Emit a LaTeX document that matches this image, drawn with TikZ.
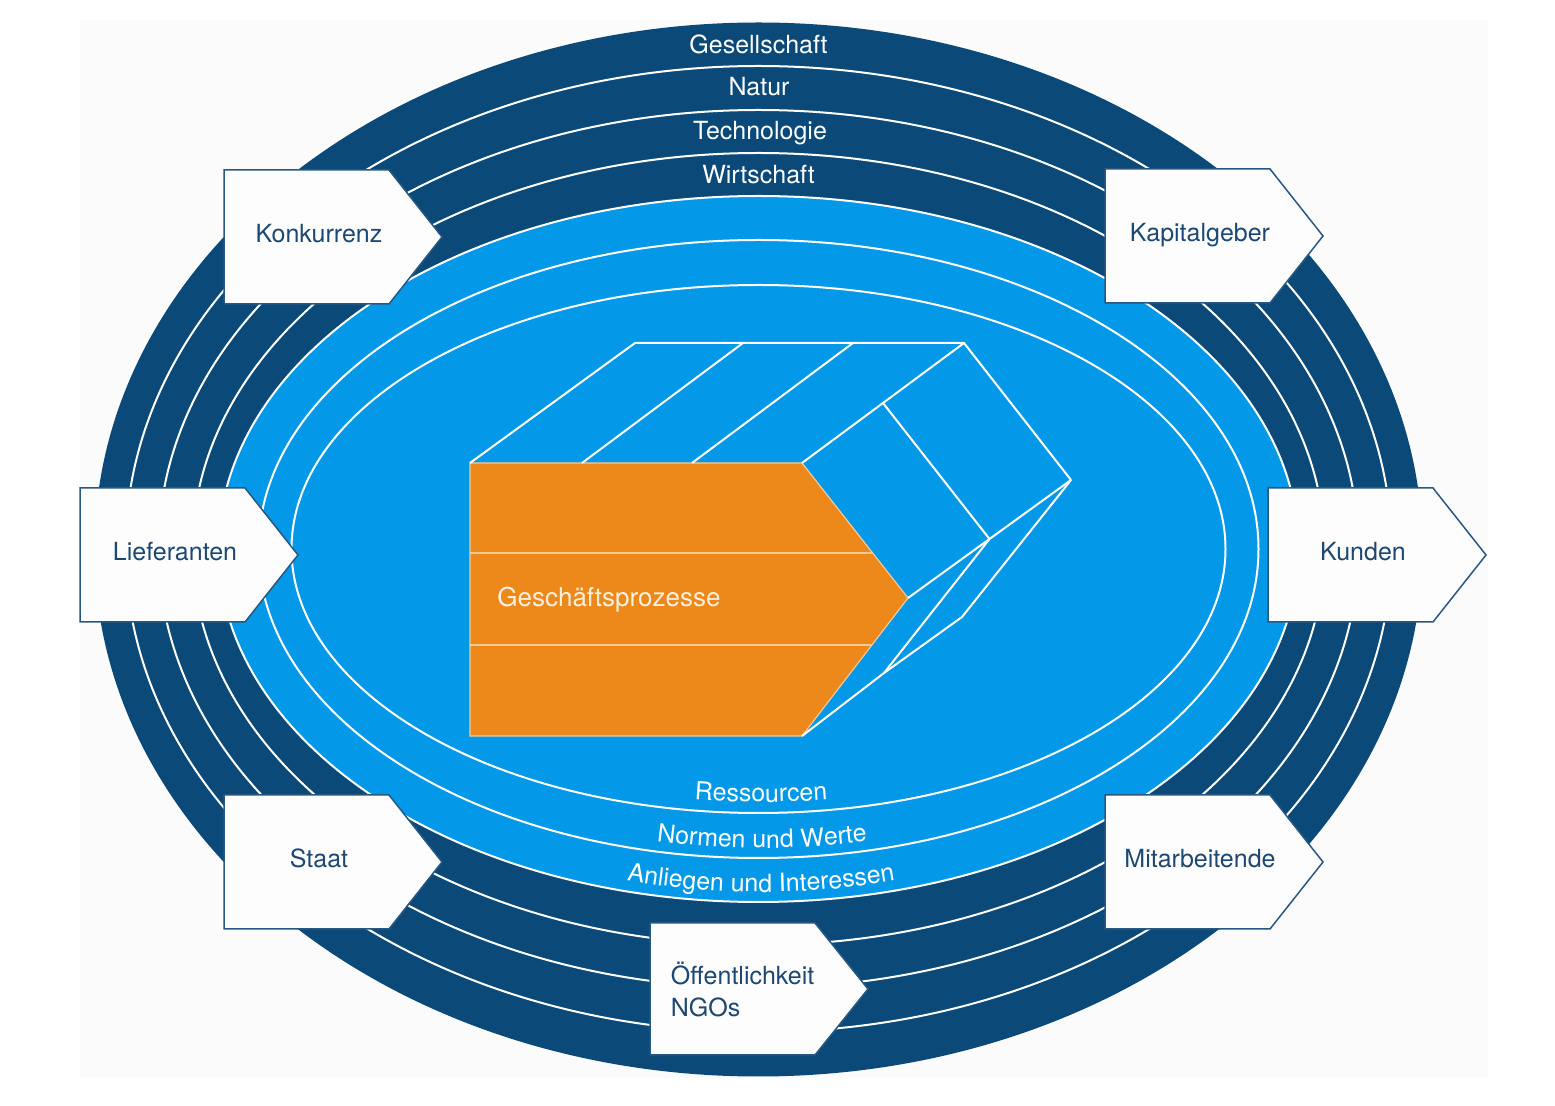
\documentclass[tikz,border=0pt]{standalone}
\usepackage{fontspec}
\setmainfont{TeX Gyre Heros}
\usetikzlibrary{decorations.text}
\definecolor{navy}{RGB}{11,73,121}
\definecolor{sky}{RGB}{4,152,232}
\definecolor{orng}{RGB}{237,136,26}
\definecolor{boxtext}{RGB}{28,72,115}
\definecolor{boxline}{RGB}{40,88,130}
\definecolor{paleorange}{RGB}{248,200,150}
\definecolor{cream}{RGB}{255,240,222}
\definecolor{bgpale}{RGB}{251,251,251}
\newcommand{\ringfont}{\fontsize{12.5}{15}\selectfont}
\newcommand{\stakeholder}[4]{%
  \path[sharrow] (#2,#3) -- ++(165,0) -- ++(53,67) -- ++(-53,67) -- ++(-165,0) -- cycle;
  \node[slabel] (#1) at ({#2+95},{#3+73}) {#4};
}
\begin{document}
\begin{tikzpicture}[x=0.5pt,y=-0.5pt,
  ring/.style={draw=white, line width=1pt},
  ringlabel/.style={anchor=base, text=white, font=\ringfont, inner sep=0pt},
  sharrow/.style={fill=white!60!bgpale, draw=boxline, line width=0.75pt, line join=miter},
  slabel/.style={anchor=base, text=boxtext, font=\ringfont, inner sep=0pt},
  prism/.style={draw=white, line width=1pt, line join=round},
  orangeline/.style={draw=paleorange, line width=1.1pt}]
\useasboundingbox (0,0) rectangle (1555,1106);
\fill[bgpale] (80,20) rectangle (1488,1078);
% outer rings
\fill[navy] (758.5,549.5) ellipse [x radius=664, y radius=527];
\foreach \a/\b in {633/483,600/439,566/396}
  \draw[ring] (758.5,549) ellipse [x radius=\a, y radius=\b];
\filldraw[fill=sky, draw=white, line width=1pt] (758.5,549) ellipse [x radius=540, y radius=353];
\foreach \a/\b in {500/309,467/264}
  \draw[ring] (758.5,549) ellipse [x radius=\a, y radius=\b];
% ring labels
\node[ringlabel] (gesellschaft) at (758.5,54) {Gesellschaft};
\node[ringlabel] (natur) at (759,96) {Natur};
\node[ringlabel] (technologie) at (760,140) {Technologie};
\node[ringlabel] (wirtschaft) at (758.5,184) {Wirtschaft};
\path[decorate, decoration={text along path, text align=center,
   text={|\ringfont\color{white}|Ressourcen}}]
   (761,549) ++(120:460 and 253) arc[start angle=120, end angle=60, x radius=460, y radius=253];
\path[decorate, decoration={text along path, text align=center,
   text={|\ringfont\color{white}|Normen und Werte}}]
   (762,549) ++(125:490 and 299) arc[start angle=125, end angle=55, x radius=490, y radius=299];
\path[decorate, decoration={text along path, text align=center,
   text={|\ringfont\color{white}|Anliegen und Interessen}}]
   (761,549) ++(125:526 and 343) arc[start angle=125, end angle=55, x radius=526, y radius=343];
% business process prism
\filldraw[fill=orng, draw=paleorange, line width=0.6pt]
  (470,463) coordinate (TL) -- (802,463) coordinate (TR) -- (908,598) coordinate (T)
  -- (802,736) coordinate (F) -- (470,736) coordinate (BL) -- cycle;
\coordinate (TLb) at (635,343);
\coordinate (TRb) at (964,343);
\coordinate (Tb) at (1071,480);
\coordinate (M1) at (883,403);
\coordinate (P) at (989.5,539);
\coordinate (R) at (962,617);
\coordinate (Q) at (884,673);
\coordinate (D1a) at (582,463);
\coordinate (D1b) at (743,343);
\coordinate (D2a) at (692,463);
\coordinate (D2b) at (853,343);
\coordinate (O1a) at (470,553);
\coordinate (O1b) at (873,553);
\coordinate (O2a) at (470,645);
\coordinate (O2b) at (872,645);
\draw[orangeline] (O1a) -- (O1b);
\draw[orangeline] (O2a) -- (O2b);
\draw[prism] (TL) -- (TLb) -- (TRb) -- (Tb);
\draw[prism] (D1a) -- (D1b);
\draw[prism] (D2a) -- (D2b);
\draw[prism] (TR) -- (TRb);
\draw[prism] (M1) -- (P);
\draw[prism] (T) -- (P) -- (Tb);
\draw[prism] (P) -- (Q);
\draw[prism] (Tb) -- (R) -- (Q) -- (F);
\node[anchor=base west, text=cream, font=\fontsize{13}{15}\selectfont, inner sep=0pt] (gp) at (497,606.5) {Geschäftsprozesse};
% stakeholders
\stakeholder{konkurrenz}{224}{170}{Konkurrenz}
\stakeholder{kapitalgeber}{1105}{169}{Kapitalgeber}
\stakeholder{lieferanten}{80}{488}{Lieferanten}
\stakeholder{kunden}{1268}{488}{Kunden}
\stakeholder{staat}{224}{795}{Staat}
\stakeholder{mitarbeitende}{1105}{795}{Mitarbeitende}
\path[sharrow] (650,923) -- ++(165,0) -- ++(53,66) -- ++(-53,66) -- ++(-165,0) -- cycle;
\node[anchor=base west, text=boxtext, font=\fontsize{12.5}{16}\selectfont, inner sep=0pt, align=left] (oeff) at (670.5,1017) {Öffentlichkeit\\NGOs};
\end{tikzpicture}
\end{document}
